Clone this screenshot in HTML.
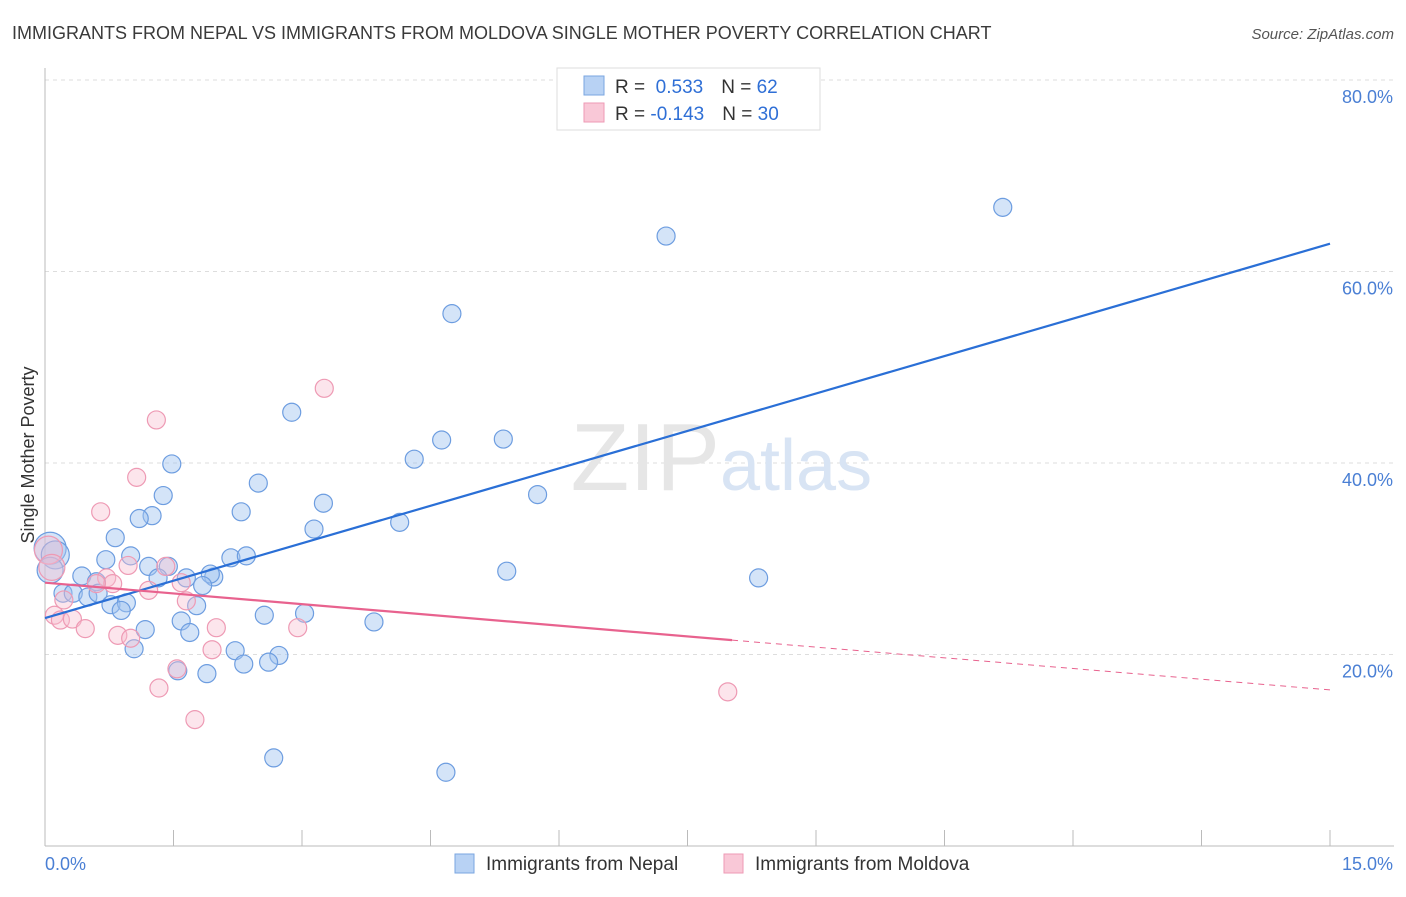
<!DOCTYPE html>
<html><head><meta charset="utf-8"><style>
body{margin:0;background:#fff;font-family:"Liberation Sans",sans-serif}
svg text{font-family:"Liberation Sans",sans-serif}
</style></head><body>
<svg width="1406" height="892">
<text x="12" y="39" font-size="18" fill="#3a3a3a">IMMIGRANTS FROM NEPAL VS IMMIGRANTS FROM MOLDOVA SINGLE MOTHER POVERTY CORRELATION CHART</text>
<text x="1394" y="39" font-size="15" fill="#555" text-anchor="end" font-style="italic">Source: ZipAtlas.com</text>
<g id="grid"></g>
<text x="720" y="490" font-size="96" fill="#e6e6e6" text-anchor="end" font-family="Liberation Serif">ZIP</text>
<text x="720" y="490" font-size="72" fill="#d8e4f4">atlas</text>
<line x1="45" y1="68" x2="45" y2="846" stroke="#bbb"/>
<line x1="45" y1="846" x2="1394" y2="846" stroke="#bbb"/>
<text transform="translate(34,455) rotate(-90)" font-size="18" fill="#333" text-anchor="middle">Single Mother Poverty</text>
<text x="45" y="870" font-size="18" fill="#4a7fd4">0.0%</text>
<text x="1393" y="870" font-size="18" fill="#4a7fd4" text-anchor="end">15.0%</text>
<g id="pts"></g>
<g id="trends"></g>
<g>
<rect x="557" y="68" width="263" height="62" fill="#fff" stroke="#ddd"/>
<rect x="584" y="76" width="20" height="19" fill="#b8d2f4" stroke="#7aa6e0"/>
<rect x="584" y="103" width="20" height="19" fill="#f9c8d7" stroke="#ee9ab4"/>
<text x="615" y="93" font-size="19" fill="#333">R = <tspan fill="#2f6fd6">&#160;0.533</tspan><tspan dx="18">N = </tspan><tspan fill="#2f6fd6">62</tspan></text>
<text x="615" y="120" font-size="19" fill="#333">R = <tspan fill="#2f6fd6">-0.143</tspan><tspan dx="18">N = </tspan><tspan fill="#2f6fd6">30</tspan></text>
</g>
<g>
<rect x="455" y="854" width="19" height="19" fill="#b8d2f4" stroke="#7aa6e0"/>
<text x="486" y="870" font-size="19" fill="#333">Immigrants from Nepal</text>
<rect x="724" y="854" width="19" height="19" fill="#f9c8d7" stroke="#ee9ab4"/>
<text x="755" y="870" font-size="19" fill="#333">Immigrants from Moldova</text>
</g>
</svg>
<script>
const yTicks=[20,40,60,80];
const xTicks=[0,1.5,3,4.5,6,7.5,9,10.5,12,13.5,15];
const nepalX=[11.18,7.25,4.75,2.88,1.48,4.31,4.63,5.35,5.75,3.25,2.49,1.38,1.25,1.10,2.29,4.14,3.14,0.82,1.00,0.71,0.06,0.12,2.17,2.35,1.21,1.44,1.32,1.65,1.97,1.93,1.84,5.39,8.33,0.43,0.60,0.21,0.33,0.50,0.62,0.77,0.95,0.89,1.77,3.03,2.56,1.59,3.84,1.17,1.69,1.04,2.22,2.73,2.32,2.61,1.55,1.89,2.67,4.68,0.06];
const nepalY=[66.7,63.7,55.6,45.3,39.9,40.4,42.4,42.5,36.7,35.8,37.9,36.6,34.5,34.2,34.9,33.8,33.1,32.2,30.3,29.9,31.1,30.4,30.1,30.3,29.2,29.2,28.0,28.0,28.1,28.4,27.2,28.7,28.0,28.2,27.6,26.4,26.4,26.0,26.4,25.2,25.4,24.6,25.1,24.3,24.1,23.5,23.4,22.6,22.3,20.6,20.4,19.9,19.0,19.2,18.3,18.0,9.2,7.7,28.8];
const nepalR=[9,9,9,9,9,9,9,9,9,9,9,9,9,9,9,9,9,9,9,9,16,14,9,9,9,9,9,9,9,9,9,9,9,9,9,9,9,9,9,9,9,9,9,9,9,9,9,9,9,9,9,9,9,9,9,9,9,9,13];
const moldX=[3.26,1.30,1.07,0.65,0.04,0.08,1.41,0.97,0.72,0.79,1.59,0.60,1.21,1.65,0.22,0.11,0.18,0.32,0.47,0.85,1.00,2.00,2.95,1.95,1.54,1.33,1.75,7.97];
const moldY=[47.8,44.5,38.5,34.9,30.9,29.1,29.2,29.3,28.0,27.4,27.5,27.4,26.7,25.6,25.7,24.1,23.6,23.7,22.7,22.0,21.7,22.8,22.8,20.5,18.5,16.5,13.2,16.1];
const moldR=[9,9,9,9,14,13,9,9,9,9,9,9,9,9,9,9,9,9,9,9,9,9,9,9,9,9,9,9];
const nepalTrend=[[0,23.8],[15,62.9]];
const moldTrend=[[0,27.5],[8.02,21.5],[15,16.3]];
const X=v=>45+v/15*1285, Y=v=>846-v/20*191.5;
const NS="http://www.w3.org/2000/svg";
function mk(t,a,p){const e=document.createElementNS(NS,t);for(const k in a)e.setAttribute(k,a[k]);p.appendChild(e);return e;}
const grid=document.getElementById('grid');
yTicks.forEach(t=>{
 const l=mk('line',{x1:45,x2:1394,y1:Y(t),y2:Y(t),stroke:'#ddd','stroke-dasharray':'4,4'},grid);
 
 
 const tx=mk('text',{x:1393,y:Y(t)+23,'font-size':18,fill:'#4a7fd4','text-anchor':'end'},grid);
 tx.textContent=t.toFixed(1)+'%';
 
 
});
xTicks.forEach(t=>{
 const l=mk('line',{x1:X(t),x2:X(t),y1:830,y2:846,stroke:'#bbb'},grid);
 
 
});
const pts=document.getElementById('pts');
nepalX.forEach((v,i)=>{
 const c=mk('circle',{cx:X(v),cy:Y(nepalY[i]),r:nepalR[i],fill:'rgba(160,195,240,0.45)',stroke:'#6d9de0','stroke-width':1.2},pts);
 
 
});
moldX.forEach((v,i)=>{
 const c=mk('circle',{cx:X(v),cy:Y(moldY[i]),r:moldR[i],fill:'rgba(248,190,208,0.4)',stroke:'#ee9ab4','stroke-width':1.2},pts);
 
 
});
const tr=document.getElementById('trends');
const bl=mk('line',{x1:X(nepalTrend[0][0]),y1:Y(nepalTrend[0][1]),x2:X(nepalTrend[1][0]),y2:Y(nepalTrend[1][1]),stroke:'#2a6fd6','stroke-width':2.2},tr);


const pl=mk('line',{x1:X(moldTrend[0][0]),y1:Y(moldTrend[0][1]),x2:X(moldTrend[1][0]),y2:Y(moldTrend[1][1]),stroke:'#e8628e','stroke-width':2.2},tr);


const pd=mk('line',{x1:X(moldTrend[1][0]),y1:Y(moldTrend[1][1]),x2:X(moldTrend[2][0]),y2:Y(moldTrend[2][1]),stroke:'#e8628e','stroke-width':1,'stroke-dasharray':'6,5'},tr);


</script>
</body></html>
